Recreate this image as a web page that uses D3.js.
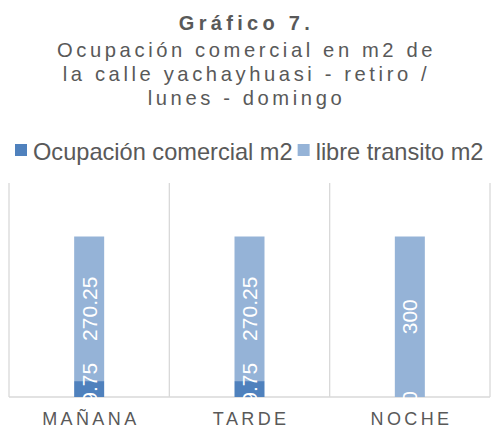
<!DOCTYPE html>
<html><head><meta charset="utf-8">
<script src="https://cdn.jsdelivr.net/npm/d3@7"></script>
<style>body{margin:0;background:#fff}svg{display:block;font-family:"Liberation Sans",Arial,sans-serif}</style>
</head><body><svg id="c" width="493" height="430"></svg>
<script>
const categories = ["MAÑANA", "TARDE", "NOCHE"];
const seriesNames = ["Ocupación comercial m2", "libre transito m2"];
const ocupacion = [29.75, 29.75, 0];
const libre = [270.25, 270.25, 300];
const yTicks = [0, 100, 200, 300, 400];
const titleLines = ["Gráfico 7."];
const subtitleLines = ["Ocupación comercial en m2 de", "la calle yachayhuasi - retiro /", "lunes - domingo"];
const colors = ["#4F81BD", "#95B3D7"];

const svg = d3.select("#c");
const W = 493;
const x = d3.scaleBand().domain(categories).range([9, 490]).padding(0);
const y = d3.scaleLinear().domain([0, d3.max(yTicks)]).range([397, 183]);
const barW = 30;

// title
svg.append("text").attr("x", W/2).attr("y", 30).attr("text-anchor", "middle")
  .attr("font-size", 20).attr("font-weight", "bold").attr("fill", "#595959")
  .attr("letter-spacing", 4.3).text(titleLines[0]);
subtitleLines.forEach((t, i) => {
  svg.append("text").attr("x", W/2).attr("y", 57 + i*24).attr("text-anchor", "middle")
    .attr("font-size", 20.2).attr("fill", "#595959").attr("letter-spacing", 3.6).text(t);
});

// legend
const lg = svg.append("g");
let lx = 15;
seriesNames.forEach((n, i) => {
  lg.append("rect").attr("x", lx).attr("y", 144).attr("width", 12).attr("height", 12).attr("fill", colors[i]);
  const t = lg.append("text").attr("x", lx + 18).attr("y", 160).attr("font-size", 23.6)
    .attr("fill", "#595959").text(n);
  lx += 18 + t.node().getComputedTextLength() + 5;
});

// gridlines (category separators)
const bounds = categories.map(c => x(c)).concat([x.range()[1]]);
svg.append("g").selectAll("line").data(bounds).join("line")
  .attr("x1", d => d).attr("x2", d => d).attr("y1", y(d3.max(yTicks))).attr("y2", y(0))
  .attr("stroke", "#D9D9D9").attr("stroke-width", 1.3);
svg.append("line").attr("x1", x.range()[0]).attr("x2", x.range()[1]).attr("y1", y(0)).attr("y2", y(0))
  .attr("stroke", "#D9D9D9").attr("stroke-width", 1.3);

// stacked bars
const rows = categories.map((c, i) => ({cat: c, ocupacion: ocupacion[i], libre: libre[i]}));
const stack = d3.stack().keys(["ocupacion", "libre"])(rows);
const cx = c => x(c) + x.bandwidth()/2;
stack.forEach((s, si) => {
  svg.append("g").selectAll("rect").data(s).join("rect")
    .attr("x", d => cx(d.data.cat) - barW/2).attr("width", barW)
    .attr("y", d => y(d[1])).attr("height", d => y(d[0]) - y(d[1]))
    .attr("fill", colors[si]);
});
stack.forEach((s, si) => {
  svg.append("g").selectAll("text").data(s).join("text")
    .attr("transform", d => `translate(${cx(d.data.cat)},${y((d[0]+d[1])/2)}) rotate(-90)`)
    .attr("text-anchor", "middle").attr("dy", "0.35em")
    .attr("font-size", 21).attr("fill", "#fff")
    .text(d => d3.format("")(d[1]-d[0]));
});

// category labels
svg.append("g").selectAll("text").data(categories).join("text")
  .attr("x", d => cx(d) + 1.7).attr("y", 425).attr("text-anchor", "middle")
  .attr("font-size", 18).attr("fill", "#595959").attr("letter-spacing", 3.4).text(d => d);
</script></body></html>
